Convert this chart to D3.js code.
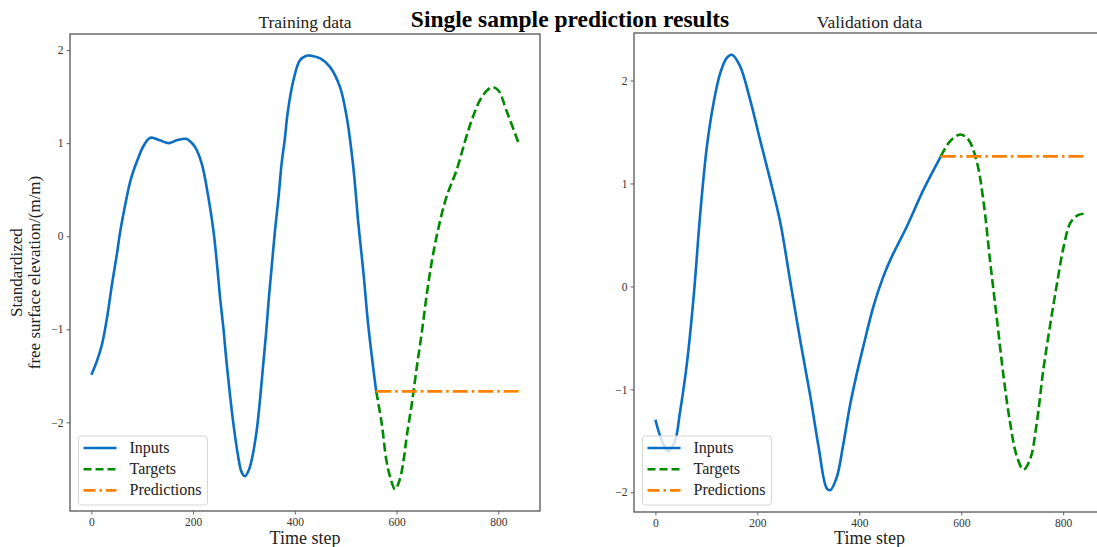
<!DOCTYPE html>
<html>
<head>
<meta charset="utf-8">
<script src="https://cdn.jsdelivr.net/npm/d3@7"></script>
<style>
  html, body { margin: 0; padding: 0; background: #fff; }
  svg { display: block; }
  text { font-family: "Liberation Serif", "Times New Roman", serif; }
</style>
</head>
<body>
<svg id="chart" width="1097" height="547"></svg>
<script>
// ---------------- data ----------------
const trainInputSteps = [0,11,21,31,41,50,57,67,77,90,103,116,135,152,168,186,196,204,217,230,240,247,253,260,266,273,281,289,295,302,309,315,325,332,338,344,349,355,361,368,374,380,386,397,410,423,432,450,469,489,502,515,525,535,544,554,560];
const trainInputValues = [-1.49,-1.34,-1.16,-0.87,-0.5,-0.2,0.06,0.35,0.6,0.81,0.975,1.058,1.03,1.0,1.03,1.047,1.01,0.957,0.78,0.42,0.06,-0.3,-0.66,-1.01,-1.37,-1.73,-2.09,-2.38,-2.53,-2.58,-2.52,-2.41,-2.09,-1.73,-1.37,-1.01,-0.66,-0.3,0.06,0.42,0.78,1.03,1.33,1.67,1.89,1.94,1.94,1.91,1.82,1.6,1.28,0.74,0.13,-0.4,-0.94,-1.41,-1.667];
const trainTargetSteps = [560,571,580,588,597,606,614,620,630,640,650,660,670,682,698,718,737,750,767,787,800,816,840];
const trainTargetValues = [-1.667,-2.02,-2.41,-2.6,-2.72,-2.62,-2.4,-2.15,-1.8,-1.4,-1.02,-0.6,-0.25,0.08,0.42,0.71,1.065,1.28,1.49,1.6,1.567,1.35,1.0];
const trainPredSteps = [560,840];
const trainPredValues = [-1.667,-1.667];

const valInputSteps = [0,12,25,38,48,62,75,88,101,114,127,140,150,166,186,205,225,245,264,284,304,320,336,343,356,368,382,395,408,428,446,461,493,526,560];
const valInputValues = [-1.295,-1.49,-1.6,-1.51,-1.23,-0.74,-0.1,0.71,1.36,1.78,2.07,2.22,2.25,2.14,1.81,1.43,1.04,0.62,0.065,-0.52,-1.07,-1.555,-1.96,-1.98,-1.85,-1.55,-1.15,-0.85,-0.58,-0.19,0.08,0.26,0.58,0.94,1.263];
const valTargetSteps = [560,578,598,614,631,644,657,670,683,696,709,722,735,748,761,775,788,801,814,828,840];
const valTargetValues = [1.263,1.41,1.474,1.426,1.2,0.81,0.227,-0.32,-0.875,-1.33,-1.65,-1.78,-1.68,-1.33,-0.81,-0.356,0.033,0.389,0.616,0.69,0.705];
const valPredSteps = [560,840];
const valPredValues = [1.263,1.263];

const xTicks = [0,200,400,600,800];
const yTicks = [-2,-1,0,1,2];
const seriesNames = ["Inputs","Targets","Predictions"];
const chartTitle = "Single sample prediction results";
const panelTitles = ["Training data","Validation data"];
const xLabel = "Time step";
const yLabelLines = ["Standardized","free surface elevation/(m/m)"];

// ---------------- styles ----------------
const colors = {Inputs:"#0a6fc4", Targets:"#008a00", Predictions:"#ff8000"};
const dashes = {Inputs:null, Targets:"9,4", Predictions:"15,4,2.5,4"};
const LW = 2.6;
const spineColor = "#555";

const svg = d3.select("#chart");

const zip = (xs, ys) => xs.map((x,i)=>[x, ys[i]]);

const panels = [
  {title: panelTitles[0], box:{x0:70, x1:540, y0:34, y1:511},
   inputs: zip(trainInputSteps, trainInputValues),
   targets: zip(trainTargetSteps, trainTargetValues),
   preds: zip(trainPredSteps, trainPredValues)},
  {title: panelTitles[1], box:{x0:634, x1:1105, y0:33, y1:512},
   inputs: zip(valInputSteps, valInputValues),
   targets: zip(valTargetSteps, valTargetValues),
   preds: zip(valPredSteps, valPredValues)}
];

function padded(ext){ const p = (ext[1]-ext[0])*0.05; return [ext[0]-p, ext[1]+p]; }

panels.forEach((p, idx) => {
  const all = p.inputs.concat(p.targets, p.preds);
  const x = d3.scaleLinear().domain(padded(d3.extent(all, d=>d[0]))).range([p.box.x0, p.box.x1]);
  const y = d3.scaleLinear().domain(padded(d3.extent(all, d=>d[1]))).range([p.box.y1, p.box.y0]);
  const g = svg.append("g");

  // axes
  const xAxis = d3.axisBottom(x).tickValues(xTicks).tickSize(3.5).tickPadding(3).tickFormat(d3.format("d"));
  const yAxis = d3.axisLeft(y).tickValues(yTicks).tickSize(3.5).tickPadding(3)
      .tickFormat(d => d < 0 ? "\u2212" + Math.abs(d) : String(d));
  const gx = g.append("g").attr("transform", `translate(0,${p.box.y1})`).call(xAxis);
  const gy = g.append("g").attr("transform", `translate(${p.box.x0},0)`).call(yAxis);
  [gx, gy].forEach(a => {
    a.select(".domain").remove();
    a.selectAll(".tick line").attr("stroke", spineColor).attr("stroke-width", 0.9);
    a.selectAll(".tick text").attr("fill", "#333").style("font-size", "11.5px")
      .style("font-family", '"Liberation Serif", serif');
  });

  // frame
  g.append("rect").attr("x", p.box.x0).attr("y", p.box.y0)
    .attr("width", p.box.x1 - p.box.x0).attr("height", p.box.y1 - p.box.y0)
    .attr("fill", "none").attr("stroke", spineColor).attr("stroke-width", 1.3);

  const line = d3.line().x(d => x(d[0])).y(d => y(d[1])).curve(d3.curveCatmullRom.alpha(0.5));
  const draw = (data, name) => g.append("path").datum(data).attr("d", line)
      .attr("fill","none").attr("stroke", colors[name]).attr("stroke-width", LW)
      .attr("stroke-dasharray", dashes[name]).attr("stroke-linejoin","round");
  draw(p.inputs, "Inputs");
  draw(p.targets, "Targets");
  draw(p.preds, "Predictions");

  // panel title
  const cx = (p.box.x0 + p.box.x1) / 2;
  svg.append("text").attr("x", cx).attr("y", 28).attr("text-anchor","middle")
    .style("font-size","17.5px").attr("fill","#222").text(p.title);
  // x label
  svg.append("text").attr("x", cx).attr("y", 544).attr("text-anchor","middle")
    .style("font-size","18px").attr("fill","#222").text(xLabel);

  // legend
  const lx = p.box.x0 + 8.5, ly = 436;
  const lg = svg.append("g").attr("transform", `translate(${lx},${ly})`);
  lg.append("rect").attr("width", 129).attr("height", 69).attr("rx", 3)
    .attr("fill","#fff").attr("fill-opacity",0.8).attr("stroke","#d6d6d6").attr("stroke-width",1);
  seriesNames.forEach((name, i) => {
    const yy = 12 + i * 21.2;
    lg.append("line").attr("x1", 5).attr("x2", 38).attr("y1", yy).attr("y2", yy)
      .attr("stroke", colors[name]).attr("stroke-width", LW)
      .attr("stroke-dasharray", name === "Targets" ? "8,4" : (name === "Predictions" ? "12,4,2.5,4" : null));
    lg.append("text").attr("x", 51).attr("y", yy + 5).style("font-size","16px")
      .attr("fill","#222").text(name);
  });
});

// y label (two lines)
yLabelLines.forEach((t, i) => {
  svg.append("text").attr("transform", `translate(${22 + i*18},272.5) rotate(-90)`)
    .attr("text-anchor","middle").style("font-size","17px").attr("fill","#222").text(t);
});

// main title
svg.append("text").attr("x", 570).attr("y", 27).attr("text-anchor","middle")
  .style("font-size","23.5px").style("font-weight","bold").attr("fill","#000").text(chartTitle);
</script>
</body>
</html>
